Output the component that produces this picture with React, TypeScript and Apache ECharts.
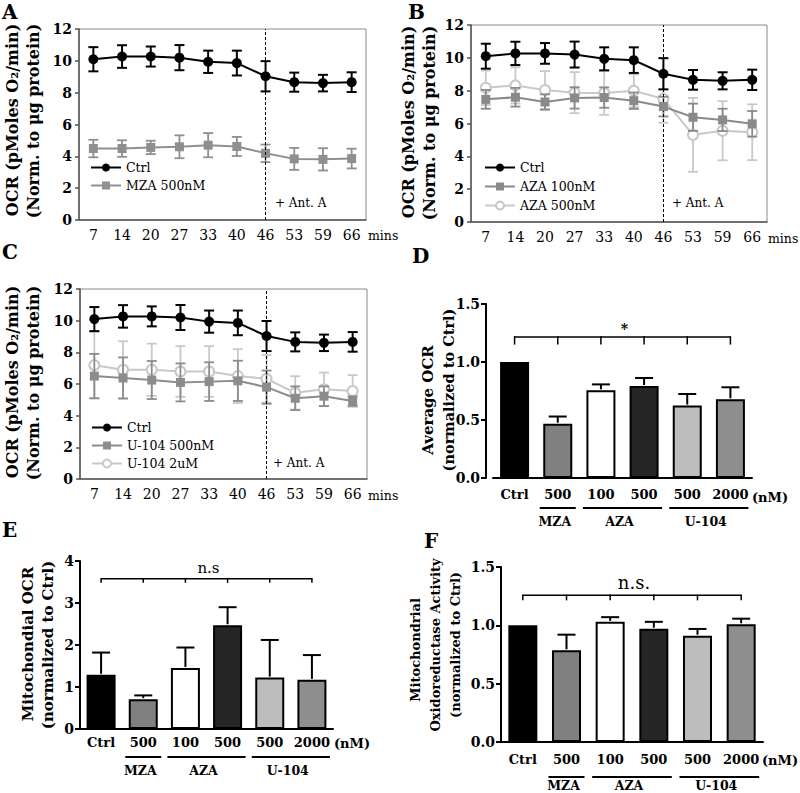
import React, { useEffect, useRef } from 'react';
import * as echarts from 'echarts';

const SERIF = '"DejaVu Serif", "Liberation Serif", serif';

// ---------- line panels (A, B, C) ----------
const times = ['7', '14', '20', '27', '33', '40', '46', '53', '59', '66'];
const ctrlMean = [10.1, 10.27, 10.27, 10.2, 9.94, 9.86, 9.03, 8.66, 8.6, 8.66];
const ctrlErr = [0.76, 0.71, 0.63, 0.79, 0.7, 0.78, 0.95, 0.6, 0.52, 0.62];
const mzaMean = [4.49, 4.49, 4.56, 4.6, 4.7, 4.62, 4.19, 3.84, 3.81, 3.86];
const mzaErr = [0.55, 0.52, 0.42, 0.72, 0.76, 0.6, 0.55, 0.69, 0.7, 0.62];
const aza100Mean = [7.47, 7.6, 7.31, 7.56, 7.58, 7.39, 7.03, 6.38, 6.22, 5.98];
const aza100Err = [0.57, 0.57, 0.47, 0.65, 0.62, 0.5, 0.6, 0.83, 0.68, 0.78];
const aza500Mean = [8.18, 8.32, 8.04, 7.88, 7.86, 8.0, 7.5, 5.31, 5.56, 5.47];
const aza500Err = [1.05, 1.1, 1.15, 1.25, 1.33, 1.0, 1.45, 2.25, 1.8, 1.7];
const u500Mean = [6.5, 6.38, 6.25, 6.1, 6.15, 6.2, 5.8, 5.1, 5.23, 4.92];
const u500Err = [1.4, 1.3, 1.2, 1.2, 1.22, 1.27, 1.05, 0.75, 0.62, 0.3];
const u2Mean = [7.19, 6.9, 6.9, 6.79, 6.79, 6.5, 6.33, 5.44, 5.67, 5.56];
const u2Err = [2.1, 1.8, 1.65, 1.6, 1.6, 1.7, 1.5, 1.05, 1.05, 1.0];
const lineYTicks = { min: 0, max: 12, interval: 2 };
const antATime = '46';

// ---------- bar panels (D, E, F) ----------
const barKeys = ['Ctrl', 'MZA 500', 'AZA 100', 'AZA 500', 'U-104 500', 'U-104 2000'];
const barTickLabels = ['Ctrl', '500', '100', '500', '500', '2000'];
const groupNames = ['MZA', 'AZA', 'U-104'];
const groupSpans = [[1, 1], [2, 3], [4, 5]];
const avgOcrMean = [1.0, 0.468, 0.756, 0.793, 0.624, 0.678];
const avgOcrTop = [1.0, 0.53, 0.807, 0.862, 0.724, 0.782];
const mitoOcrMean = [1.29, 0.71, 1.455, 2.47, 1.225, 1.17];
const mitoOcrTop = [1.82, 0.8, 1.94, 2.9, 2.12, 1.76];
const oxidoMean = [1.0, 0.786, 1.03, 0.971, 0.911, 1.009];
const oxidoTop = [1.0, 0.92, 1.07, 1.03, 0.969, 1.057];
const sigLabels = ['*', 'n.s', 'n.s.'];
const bracketLevels = [1.216, 3.58, 1.257];
const bracketTickEnds = [1.15, 3.48, 1.214];
const sigLabelLevels = [1.32, 3.84, 1.363];

const barColors = ['#000000', '#808080', '#ffffff', '#262626', '#bdbdbd', '#8e8e8e'];

const grids = [
  { left: 79, top: 29, width: 287, height: 191 },
  { left: 471, top: 25, width: 296, height: 197 },
  { left: 80, top: 289, width: 287, height: 190 },
  { left: 493, top: 304, width: 259, height: 174 },
  { left: 80, top: 561, width: 253, height: 168 },
  { left: 501, top: 567, width: 262, height: 175 },
];

type LS = { name: string; mean: number[]; err: number[]; color: string; symbol: string; size: number };

const ctrlSeries: LS = { name: 'Ctrl', mean: ctrlMean, err: ctrlErr, color: '#000000', symbol: 'circle', size: 10 };

const linePanels: { extra: LS[]; legendLeft: number; legendTop: number; gap: number }[] = [
  {
    extra: [{ name: 'MZA 500nM', mean: mzaMean, err: mzaErr, color: '#8f8f8f', symbol: 'rect', size: 9 }],
    legendLeft: 85, legendTop: 156, gap: 5,
  },
  {
    extra: [
      { name: 'AZA 100nM', mean: aza100Mean, err: aza100Err, color: '#8a8a8a', symbol: 'rect', size: 9 },
      { name: 'AZA 500nM', mean: aza500Mean, err: aza500Err, color: '#c8c8c8', symbol: 'emptyCircle', size: 10 },
    ],
    legendLeft: 479, legendTop: 156, gap: 6,
  },
  {
    extra: [
      { name: 'U-104 500nM', mean: u500Mean, err: u500Err, color: '#8c8c8c', symbol: 'rect', size: 9 },
      { name: 'U-104 2uM', mean: u2Mean, err: u2Err, color: '#c8c8c8', symbol: 'emptyCircle', size: 10 },
    ],
    legendLeft: 86, legendTop: 416, gap: 5,
  },
];

function errRender(color: string, width: number, cap: number) {
  return (params: any, api: any) => {
    const x = api.value(0);
    const lo = api.value(1);
    const hi = api.value(2);
    const a = api.coord([x, hi]);
    const b = api.coord([x, lo]);
    const st = { stroke: color, lineWidth: width };
    return {
      type: 'group',
      children: [
        { type: 'line', shape: { x1: a[0], y1: a[1], x2: b[0], y2: b[1] }, style: st },
        { type: 'line', shape: { x1: a[0] - cap, y1: a[1], x2: a[0] + cap, y2: a[1] }, style: st },
        { type: 'line', shape: { x1: b[0] - cap, y1: b[1], x2: b[0] + cap, y2: b[1] }, style: st },
      ],
    };
  };
}

function buildOption() {
  const xAxis: any[] = [];
  const yAxis: any[] = [];
  const series: any[] = [];
  const legend: any[] = [];

  linePanels.forEach((p, i) => {
    xAxis.push({
      gridIndex: i, type: 'category', data: times, boundaryGap: true,
      axisLine: { lineStyle: { color: '#555', width: 1.5 } },
      axisTick: { alignWithLabel: true, length: 5, lineStyle: { color: '#555', width: 1.5 } },
      axisLabel: { color: '#000', fontFamily: SERIF, fontSize: 14, margin: 8 },
      splitLine: { show: false },
    });
    yAxis.push({
      gridIndex: i, type: 'value', ...lineYTicks,
      axisLine: { show: true, lineStyle: { color: '#555', width: 1.5 } },
      axisTick: { show: true, length: 4, lineStyle: { color: '#555', width: 1.5 } },
      axisLabel: { color: '#000', fontFamily: SERIF, fontSize: 14, fontWeight: 'bold', margin: 7 },
      splitLine: { show: false },
    });
    const all = [...p.extra].reverse().concat([ctrlSeries]);
    all.forEach((s, k) => {
      const isCtrl = s.name === 'Ctrl';
      series.push({
        type: 'custom', name: s.name + ' err', xAxisIndex: i, yAxisIndex: i, z: 2 + k * 2,
        renderItem: errRender(s.color, isCtrl ? 2 : 1.8, 5),
        encode: { x: 0, y: [1, 2] },
        data: s.mean.map((m, j) => [j, m - s.err[j], m + s.err[j]]),
        silent: true,
      });
      series.push({
        type: 'line', name: s.name, xAxisIndex: i, yAxisIndex: i, z: 3 + k * 2,
        data: s.mean, symbol: s.symbol, symbolSize: s.size, showSymbol: true,
        lineStyle: { color: s.color, width: 2 },
        itemStyle: { color: s.color, borderWidth: s.symbol === 'emptyCircle' ? 1.8 : 0 },
        emphasis: { disabled: true },
        markLine: isCtrl ? {
          silent: true, symbol: 'none', label: { show: false },
          lineStyle: { type: [3, 2], color: '#000', width: 1 },
          data: [{ xAxis: antATime }],
        } : undefined,
      });
    });
    legend.push({
      data: ['Ctrl', ...p.extra.map((s) => s.name)],
      orient: 'vertical', left: p.legendLeft, top: p.legendTop,
      itemWidth: 30, itemHeight: 10, itemGap: p.gap, selectedMode: false,
      textStyle: { fontFamily: SERIF, fontSize: 12.5, color: '#000' },
    });
  });

  const barPanels = [
    { mean: avgOcrMean, top: avgOcrTop, max: 1.5, interval: 0.5, fixed: 1, offset: 7, labelMargin: 10, lineDy: 30, textDy: 43, sigFont: 'bold 14px ' + SERIF, sigDy: 4 },
    { mean: mitoOcrMean, top: mitoOcrTop, max: 4, interval: 1, fixed: 0, offset: 0, labelMargin: 7, lineDy: 28, textDy: 41, sigFont: '15px ' + SERIF, sigDy: 0 },
    { mean: oxidoMean, top: oxidoTop, max: 1.5, interval: 0.5, fixed: 1, offset: 0, labelMargin: 11, lineDy: 35, textDy: 43, sigFont: '18px ' + SERIF, sigDy: 0 },
  ];

  barPanels.forEach((p, b) => {
    const gi = 3 + b;
    xAxis.push({
      gridIndex: gi, type: 'category', data: barKeys, boundaryGap: true,
      axisLine: { lineStyle: { color: '#000', width: 2 } },
      axisTick: { alignWithLabel: true, length: 5, lineStyle: { color: '#000', width: 2 } },
      axisLabel: {
        color: '#000', fontFamily: SERIF, fontSize: 13, fontWeight: 'bold', margin: p.labelMargin,
        interval: 0, formatter: (_v: string, idx: number) => barTickLabels[idx],
      },
      splitLine: { show: false },
    });
    yAxis.push({
      gridIndex: gi, type: 'value', min: 0, max: p.max, interval: p.interval, offset: p.offset,
      axisLine: { show: true, lineStyle: { color: '#000', width: 2 } },
      axisTick: { show: true, length: 5, lineStyle: { color: '#000', width: 2 } },
      axisLabel: {
        color: '#000', fontFamily: SERIF, fontSize: 14, fontWeight: 'bold', margin: 6,
        formatter: (v: number) => v.toFixed(p.fixed),
      },
      splitLine: { show: false },
    });
    series.push({
      type: 'bar', xAxisIndex: gi, yAxisIndex: gi, barWidth: 29, z: 2,
      data: p.mean.map((v, j) => ({ value: v, itemStyle: { color: barColors[j] } })),
      itemStyle: { borderColor: '#000', borderWidth: 2 },
      emphasis: { disabled: true }, silent: true,
    });
    series.push({
      type: 'custom', xAxisIndex: gi, yAxisIndex: gi, z: 3, silent: true,
      encode: { x: 0, y: [1, 2] },
      data: p.mean.map((v, j) => [j, v, p.top[j]]),
      renderItem: (params: any, api: any) => {
        const x = api.value(0);
        const lo = api.value(1);
        const hi = api.value(2);
        if (!(hi > lo)) return { type: 'group', children: [] };
        const a = api.coord([x, hi]);
        const c = api.coord([x, lo]);
        const st = { stroke: '#000', lineWidth: 2 };
        return {
          type: 'group', children: [
            { type: 'line', shape: { x1: a[0], y1: a[1], x2: c[0], y2: c[1] - 1 }, style: st },
            { type: 'line', shape: { x1: a[0] - 9, y1: a[1], x2: a[0] + 9, y2: a[1] }, style: st },
          ],
        };
      },
    });
    // significance bracket
    series.push({
      type: 'custom', xAxisIndex: gi, yAxisIndex: gi, z: 3, silent: true,
      encode: { x: [0, 1], y: [2, 3, 4] },
      data: [[0, barKeys.length - 1, bracketLevels[b], bracketTickEnds[b], sigLabelLevels[b]]],
      renderItem: (params: any, api: any) => {
        const s = api.value(0);
        const e = api.value(1);
        const yt = api.value(2);
        const yb = api.value(3);
        const ly = api.value(4);
        const l = api.coord([s, yt]);
        const r = api.coord([e, yt]);
        const st = { stroke: '#000', lineWidth: 1.5 };
        const children: any[] = [
          { type: 'line', shape: { x1: l[0], y1: l[1], x2: r[0], y2: r[1] }, style: st },
        ];
        for (let k = s; k <= e; k++) {
          const t = api.coord([k, yt]);
          const q = api.coord([k, yb]);
          children.push({ type: 'line', shape: { x1: t[0], y1: t[1] - 0.75, x2: q[0], y2: q[1] }, style: st });
        }
        const lp = api.coord([s, ly]);
        children.push({
          type: 'text', x: (l[0] + r[0]) / 2 + 2, y: lp[1] + p.sigDy,
          style: { text: sigLabels[b], font: p.sigFont, fill: '#000', textAlign: 'center', textVerticalAlign: 'middle' },
        });
        return { type: 'group', children };
      },
    });
    // group underlines
    series.push({
      type: 'custom', xAxisIndex: gi, yAxisIndex: gi, z: 3, silent: true, clip: false,
      encode: { x: [0, 1] },
      data: groupSpans.map((g) => [g[0], g[1], 0]),
      renderItem: (params: any, api: any) => {
        const s = api.value(0);
        const e = api.value(1);
        const a = api.coord([s, 0]);
        const c = api.coord([e, 0]);
        const y = a[1] + p.lineDy;
        const x1 = a[0] - 18;
        const x2 = c[0] + 18;
        return {
          type: 'group', children: [
            { type: 'line', shape: { x1, y1: y, x2, y2: y }, style: { stroke: '#000', lineWidth: 2 } },
            {
              type: 'text', x: (x1 + x2) / 2 - 3, y: a[1] + p.textDy,
              style: { text: groupNames[params.dataIndex], font: 'bold 12.5px ' + SERIF, fill: '#000', textAlign: 'center', textVerticalAlign: 'middle' },
            },
          ],
        };
      },
    });
  });

  const txt = (text: string, x: number, y: number, font: string, align = 'center', rot = 0) => ({
    type: 'text', x, y, rotation: rot, silent: true,
    style: { text, font, fill: '#000', textAlign: align, textVerticalAlign: 'middle' },
  });
  const R = Math.PI / 2;
  const tbL = 'bold 16px ' + SERIF;
  const tb15 = 'bold 15px ' + SERIF;
  const tbF = 'bold 13px ' + SERIF;
  const letter = 'bold 20px ' + SERIF;
  const small = '12px ' + SERIF;
  const mins = '12.5px ' + SERIF;
  const nm = 'bold 13px ' + SERIF;

  const graphic = [
    txt('A', 2, 12, letter, 'left'),
    txt('B', 408, 12, letter, 'left'),
    txt('C', 2, 252, letter, 'left'),
    txt('D', 412, 256, letter, 'left'),
    txt('E', 2, 530, letter, 'left'),
    txt('F', 424, 541, letter, 'left'),
    // y titles line panels
    txt('OCR (pMoles O₂/min)', 12, 120, tbL, 'center', R),
    txt('(Norm. to μg protein)', 33, 121, tbL, 'center', R),
    txt('OCR (pMoles O₂/min)', 408, 122, tbL, 'center', R),
    txt('(Norm. to μg protein)', 429, 123, tbL, 'center', R),
    txt('OCR (pMoles O₂/min)', 12, 382, tbL, 'center', R),
    txt('(Norm. to μg protein)', 33, 383, tbL, 'center', R),
    // bar titles
    txt('Average OCR', 428, 400, tb15, 'center', R),
    txt('(normalized to Ctrl)', 448, 390, 'bold 14.5px ' + SERIF, 'center', R),
    txt('Mitochondial OCR', 28, 644, tb15, 'center', R),
    txt('(normalized to Ctrl)', 48, 645, tb15, 'center', R),
    txt('Mitochondrial', 415, 650, tbF, 'center', R),
    txt('Oxidoreductase Activity', 435, 645, tbF, 'center', R),
    txt('(normalized to Ctrl)', 455, 645, tbF, 'center', R),
    // annotations
    txt('+ Ant. A', 275, 203, small, 'left'),
    txt('+ Ant. A', 672, 203, small, 'left'),
    txt('+ Ant. A', 273, 463, small, 'left'),
    txt('mins', 368, 235, mins, 'left'),
    txt('mins', 768, 238, mins, 'left'),
    txt('mins', 368, 495, mins, 'left'),
    txt('(nM)', 770, 497, nm, 'center'),
    txt('(nM)', 352, 743, nm, 'center'),
    txt('(nM)', 780, 760, nm, 'center'),
  ];

  return {
    animation: false,
    backgroundColor: '#fff',
    grid: grids.map((g, i) => ({
      ...g,
      show: i < 3,
      borderColor: '#8a8a8a',
      borderWidth: 1,
      backgroundColor: 'transparent',
    })),
    xAxis,
    yAxis,
    legend,
    series,
    graphic,
  };
}

export default function App() {
  const ref = useRef<HTMLDivElement>(null);
  useEffect(() => {
    document.body.style.margin = '0';
    const chart = echarts.init(ref.current as HTMLDivElement, undefined, { renderer: 'svg' });
    chart.setOption(buildOption() as any);
    return () => chart.dispose();
  }, []);
  return <div ref={ref} style={{ width: 800, height: 793, background: '#fff' }} />;
}
